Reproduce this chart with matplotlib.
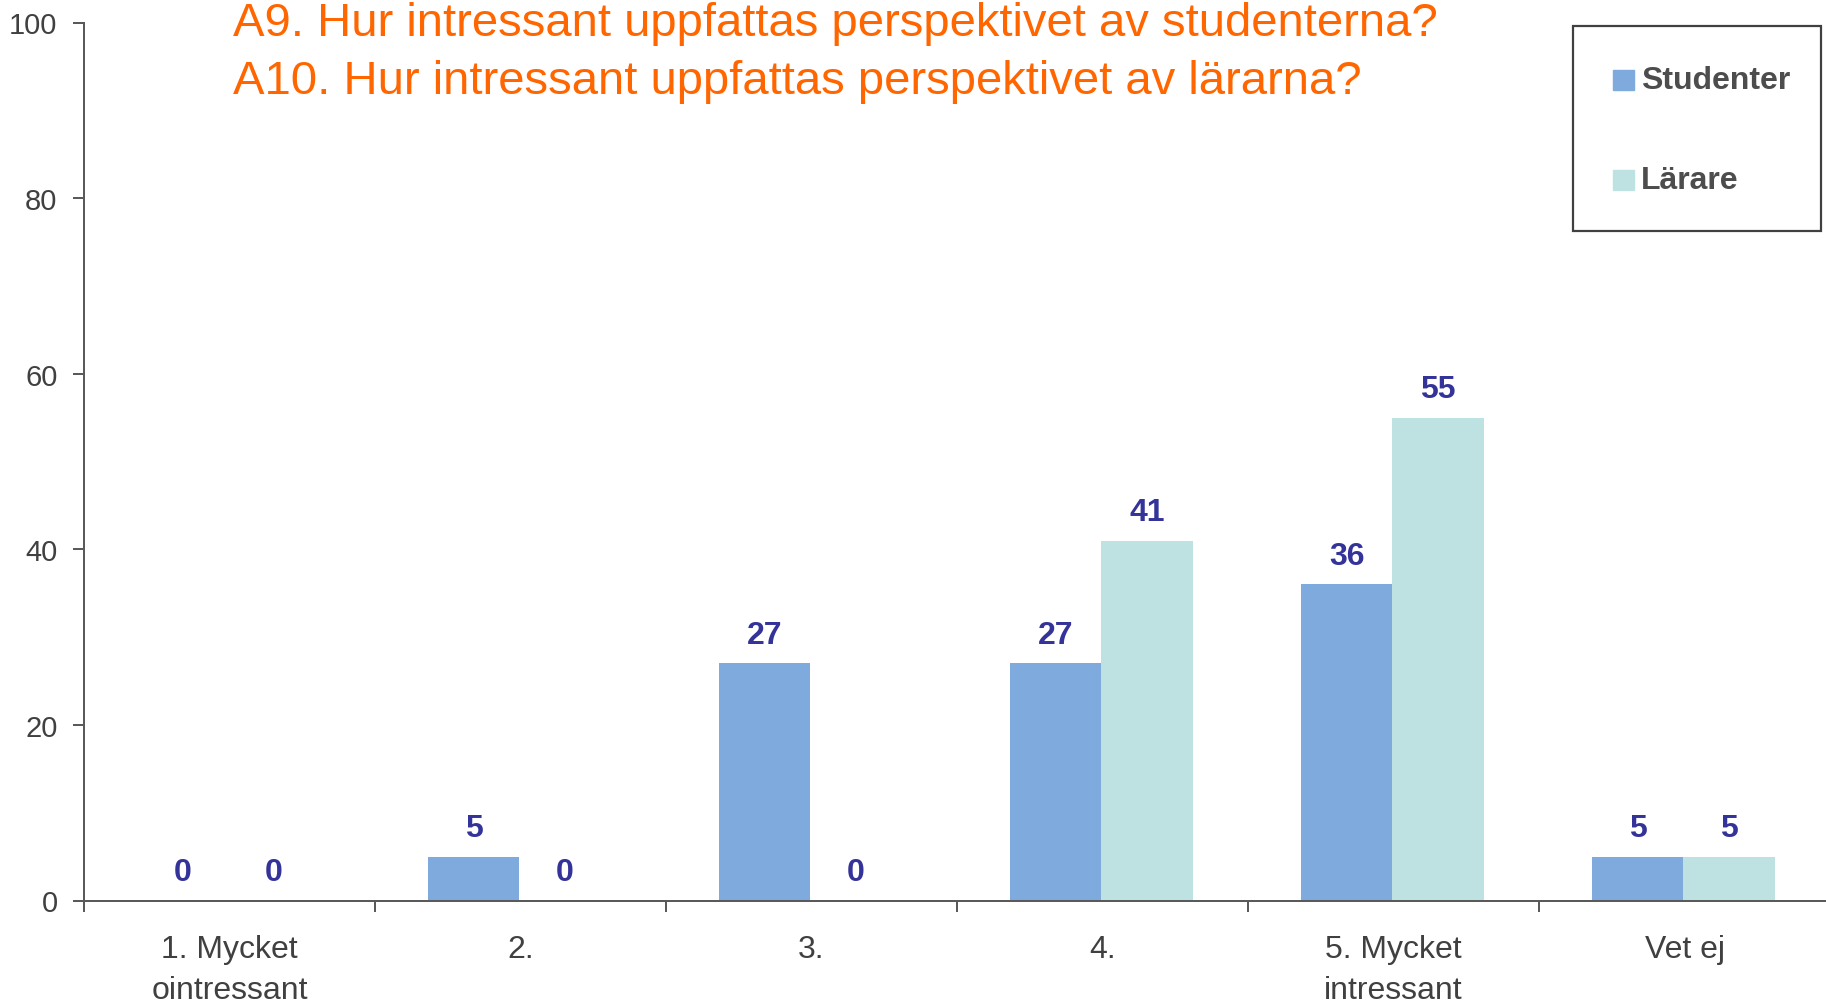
import matplotlib
matplotlib.use("Agg")
import matplotlib.pyplot as plt
import numpy as np

categories = ["1. Mycket\nointressant", "2.", "3.", "4.", "5. Mycket\nintressant", "Vet ej"]
series_names = ["Studenter", "Lärare"]
studenter = [0, 5, 27, 27, 36, 5]
larare = [0, 0, 0, 41, 55, 5]
yticks = [0, 20, 40, 60, 80, 100]
title_lines = ["A9. Hur intressant uppfattas perspektivet av studenterna?",
               "A10. Hur intressant uppfattas perspektivet av lärarna?"]

plt.rcParams['font.family'] = ['Liberation Sans', 'DejaVu Sans']

W, H = 1826, 1003
fig = plt.figure(figsize=(W / 100, H / 100), dpi=100)
ax = fig.add_axes([84 / W, 1 - 901.5 / H, (1830 - 84) / W, (901.5 - 23.5) / H])

axis_col = "#5a5a5a"
tick_col = "#404040"
c_stud = "#7eaadd"
c_lar = "#bde2e1"
lab_col = "#333399"

x = np.arange(len(categories))
bw = 0.314
b1 = ax.bar(x - bw / 2 - 0.004, studenter, bw, color=c_stud, label=series_names[0])
b2 = ax.bar(x + bw / 2 - 0.004, larare, bw, color=c_lar, label=series_names[1])

for bars, vals in ((b1, studenter), (b2, larare)):
    for r, v in zip(bars, vals):
        ax.annotate(f"{v}", (r.get_x() + r.get_width() / 2, v), xytext=(0, 15),
                    textcoords="offset points", ha="center", va="baseline",
                    fontsize=23, fontweight="bold", color=lab_col)

ax.set_xlim(-0.5, len(categories) - 0.5)
ax.set_ylim(0, 100)
ax.set_yticks(yticks)
ax.set_xticks(x)
ax.set_xticklabels(categories, linespacing=1.5)
ax.set_xticks(np.arange(len(categories) + 1) - 0.5, minor=True)
ax.tick_params(axis="x", which="major", length=0, pad=24, labelsize=23, labelcolor=tick_col)
ax.tick_params(axis="x", which="minor", length=8, width=1.44, color=axis_col, direction="out")
ax.tick_params(axis="y", length=8, width=1.44, color=axis_col, pad=11, labelsize=21,
               labelcolor=tick_col, direction="out")
for s in ("top", "right"):
    ax.spines[s].set_visible(False)
for s in ("left", "bottom"):
    ax.spines[s].set_color(axis_col)
    ax.spines[s].set_linewidth(1.44)

fig.text(233 / W, 1 - 36 / H, title_lines[0], color="#ff6600", fontsize=34,
         ha="left", va="baseline")
fig.text(233 / W, 1 - 94 / H, title_lines[1], color="#ff6600", fontsize=34,
         ha="left", va="baseline")

# legend box
lx0, ly0, lx1, ly1 = 1573, 27, 1821, 232
fig.patches.append(plt.Rectangle((lx0 / W, 1 - ly1 / H), (lx1 - lx0) / W, (ly1 - ly0) / H,
                                 transform=fig.transFigure, fill=False,
                                 edgecolor="#404040", linewidth=1.6))
for i, (name, col) in enumerate(zip(series_names, [c_stud, c_lar])):
    yc = 81 + 100 * i
    fig.patches.append(plt.Rectangle((1613 / W, 1 - (yc + 10) / H), 21 / W, 20 / H,
                                     transform=fig.transFigure, color=col))
    fig.text(1641 / W, 1 - yc / H, name, fontsize=23, fontweight="bold",
             color="#4d4d4d", ha="left", va="center")

fig.savefig("out.png", dpi=100)
